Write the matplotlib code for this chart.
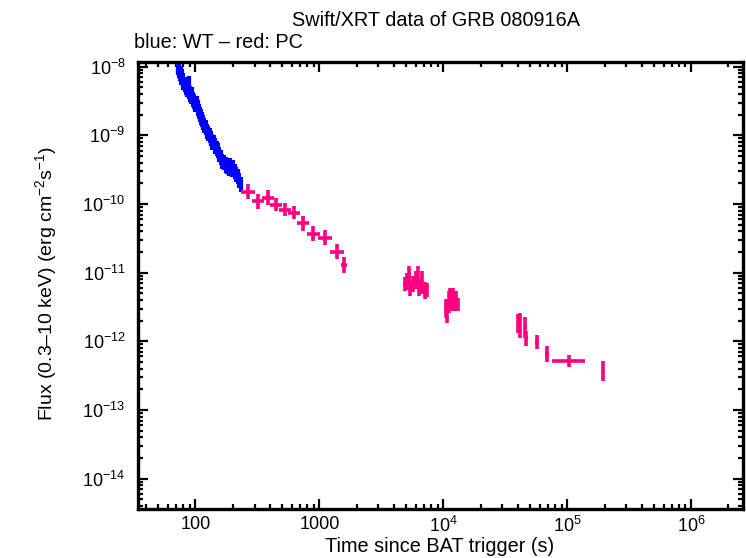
import numpy as np
import matplotlib
matplotlib.use('Agg')
import matplotlib.pyplot as plt
from matplotlib.ticker import LogLocator, FixedLocator, FixedFormatter, NullFormatter

plt.rcParams['font.family'] = ['Liberation Sans', 'DejaVu Sans']
plt.rcParams['mathtext.fontset'] = 'custom'
plt.rcParams['mathtext.rm'] = 'Liberation Sans'
plt.rcParams['mathtext.it'] = 'Liberation Sans:italic'
plt.rcParams['mathtext.bf'] = 'Liberation Sans:bold'
plt.rcParams['mathtext.default'] = 'regular'

# WT mode (blue): time (s), flux (erg/cm2/s)
wt_t = [72, 73, 74, 75, 76, 77, 78, 79, 80, 82, 84, 86, 88, 89, 90, 92, 94, 96, 98,
        100, 102, 104, 106, 108, 110, 112, 115, 118, 121, 124, 127, 130, 133, 136,
        140, 144, 148, 152, 156, 160, 165, 170, 175, 180, 185, 190, 196, 202, 208,
        214, 220, 226, 232]
wt_f = [10.5, 9.6, 8.8, 8.0, 7.6, 6.9, 7.3, 6.2, 5.8, 5.5, 5.0, 4.6, 4.4, 5.6, 4.0,
        3.7, 3.9, 3.3, 3.1, 2.8, 2.9, 2.5, 2.2, 2.0, 1.85, 1.7, 1.55, 1.4, 1.3, 1.15,
        1.05, 1.0, 0.9, 0.8, 0.78, 0.7, 0.64, 0.6, 0.52, 0.47, 0.42, 0.4, 0.37, 0.35,
        0.33, 0.36, 0.32, 0.34, 0.3, 0.27, 0.25, 0.22, 0.19]
wt_f = [v * 1e-9 for v in wt_f]

# PC mode (red): time, flux, half widths in dex
pc_t = [266, 320, 387, 447, 531, 621, 734, 895, 1110, 1390, 1580,
        4880, 5065, 5300, 5420, 5660, 5985, 6200, 6400, 6689, 7070, 7336,
        10430, 10750, 11030, 11350, 11660, 12000, 12330, 12680, 13030,
        39870, 41700, 46000, 46900, 57400, 68700, 102600, 193600]
pc_f = [1.5e-10, 1.1e-10, 1.24e-10, 9.8e-11, 8.3e-11, 7.5e-11, 5.2e-11, 3.7e-11,
        3.2e-11, 2.0e-11, 1.3e-11,
        6.9e-12, 7.5e-12, 9.3e-12, 5.9e-12, 6.9e-12, 7.8e-12, 9.3e-12, 6.1e-12,
        7.2e-12, 5.5e-12, 5.6e-12,
        3.0e-12, 2.67e-12, 3.7e-12, 4.4e-12, 4.0e-12, 4.3e-12, 3.9e-12, 4.0e-12,
        3.4e-12,
        1.83e-12, 1.71e-12, 1.6e-12, 1.1e-12, 9.8e-13, 6.5e-13, 5.2e-13, 3.7e-13]
pc_xdex = [0.055, 0.05, 0.05, 0.05, 0.05, 0.05, 0.05, 0.05, 0.055, 0.055, 0.022,
           0.012, 0.012, 0.012, 0.012, 0.012, 0.012, 0.012, 0.012, 0.012, 0.012, 0.012,
           0.01, 0.01, 0.01, 0.01, 0.01, 0.01, 0.01, 0.01, 0.01,
           0.008, 0.008, 0.012, 0.012, 0.017, 0.017, 0.135, 0.008]
pc_ydex = [0.11, 0.11, 0.11, 0.10, 0.10, 0.10, 0.115, 0.11, 0.11, 0.11, 0.115,
           0.10, 0.125, 0.13, 0.11, 0.115, 0.13, 0.13, 0.125, 0.17, 0.125, 0.10,
           0.14, 0.16, 0.16, 0.13, 0.16, 0.14, 0.145, 0.13, 0.095,
           0.14, 0.18, 0.15, 0.115, 0.107, 0.117, 0.085, 0.15]

wt_t = np.array(wt_t, float)
wt_f = np.array(wt_f, float)
wt_xerr = [wt_t * (1 - 10 ** -0.012), wt_t * (10 ** 0.012 - 1)]
wt_yerr = [wt_f * (1 - 10 ** -0.11), wt_f * (10 ** 0.11 - 1)]

pc_t = np.array(pc_t, float)
pc_f = np.array(pc_f, float)
xd = np.array(pc_xdex)
yd = np.array(pc_ydex)
pc_xerr = [pc_t * (1 - 10 ** -xd), pc_t * (10 ** xd - 1)]
pc_yerr = [pc_f * (1 - 10 ** -yd), pc_f * (10 ** yd - 1)]

fig = plt.figure(figsize=(7.46, 5.58), dpi=100)
ax = fig.add_axes([138 / 746, 1 - 509 / 558, (743 - 138) / 746, (509 - 62) / 558])

ax.errorbar(wt_t, wt_f, xerr=wt_xerr, yerr=wt_yerr, fmt='none', ecolor='#0000ff',
            elinewidth=3, capsize=0)
ax.errorbar(pc_t, pc_f, xerr=pc_xerr, yerr=pc_yerr, fmt='none', ecolor='#ff0080',
            elinewidth=2.6, capsize=0)

ax.set_xscale('log')
ax.set_yscale('log')
ax.set_xlim(34.4, 2.62e6)
ax.set_ylim(3.6e-15, 1.17e-8)

xt = [100, 1000, 1e4, 1e5, 1e6]
xl = ['100', '1000', '10$^{4}$', '10$^{5}$', '10$^{6}$']
ax.xaxis.set_major_locator(FixedLocator(xt))
ax.xaxis.set_major_formatter(FixedFormatter(xl))
ax.xaxis.set_minor_locator(LogLocator(base=10, subs=np.arange(2, 10), numticks=20))
ax.xaxis.set_minor_formatter(NullFormatter())

yt = [10.0 ** e for e in range(-14, -7)]
yl = ['10$^{%d}$' % e for e in range(-14, -7)]
yl = [s.replace('-', '\u2212') for s in yl]
ax.yaxis.set_major_locator(FixedLocator(yt))
ax.yaxis.set_major_formatter(FixedFormatter(yl))
ax.yaxis.set_minor_locator(LogLocator(base=10, subs=np.arange(2, 10), numticks=20))
ax.yaxis.set_minor_formatter(NullFormatter())

ax.tick_params(which='both', direction='in', top=True, right=True, width=1.6,
               labelsize=13)
ax.tick_params(which='major', length=7)
ax.tick_params(which='minor', length=3.5)
ax.tick_params(axis='y', pad=9)
ax.tick_params(axis='x', pad=5)
for s in ax.spines.values():
    s.set_linewidth(2.4)

fig.text(436 / 746, 1 - 20 / 558, 'Swift/XRT data of GRB 080916A', ha='center',
         va='center', fontsize=14.3)
fig.text(134 / 746, 1 - 42 / 558, 'blue: WT \u2013 red: PC', ha='left',
         va='center', fontsize=14.3)
fig.text(440 / 746, 1 - 546 / 558, 'Time since BAT trigger (s)', ha='center',
         va='center', fontsize=14.3)
fig.text(46 / 746, 1 - 284 / 558,
         'Flux (0.3\u201310 keV) (erg cm$^{\u22122}$s$^{\u22121}$)', ha='center',
         va='center', rotation=90, fontsize=14)

fig.savefig('out.png', dpi=100)
